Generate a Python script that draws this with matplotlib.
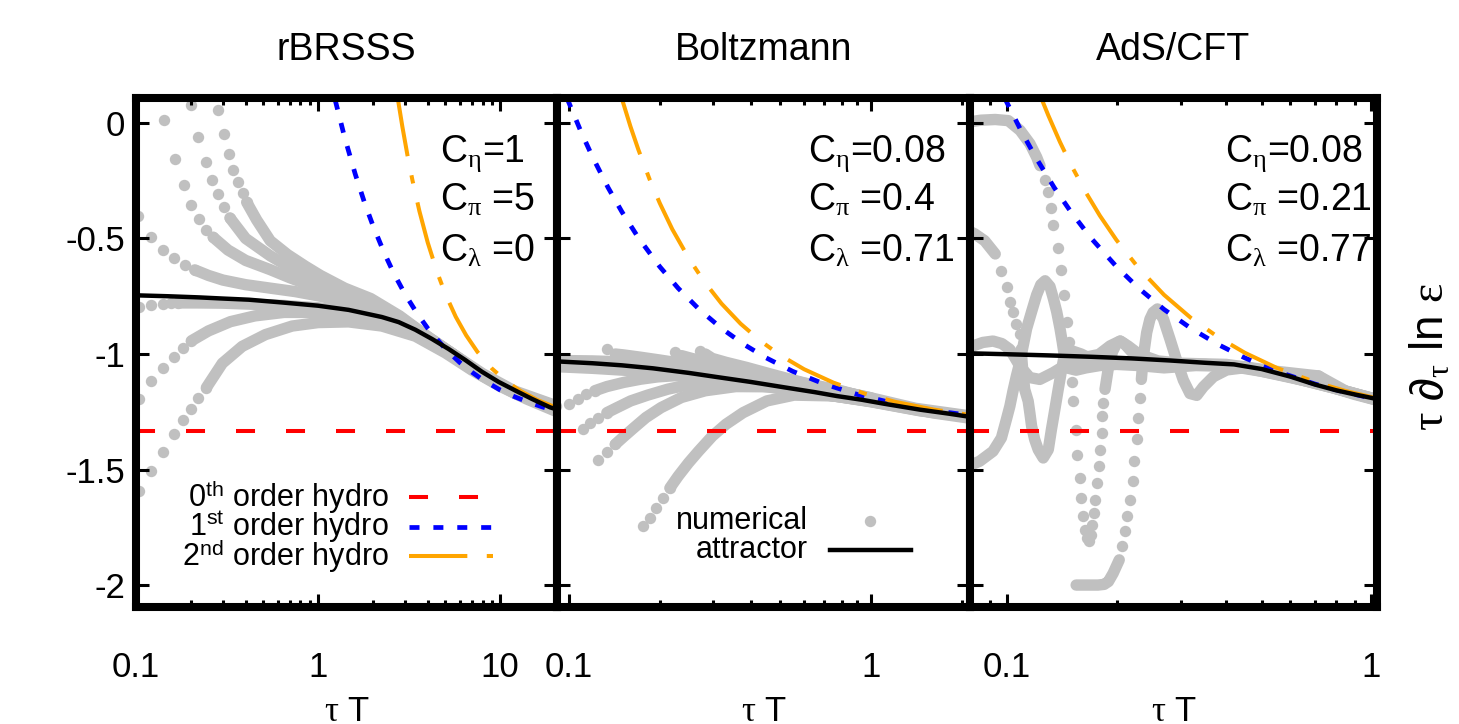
import numpy as np
import matplotlib.pyplot as plt
from matplotlib.ticker import FixedLocator, LogLocator, NullFormatter, FixedFormatter

plt.rcParams['font.family'] = ['Liberation Sans', 'DejaVu Sans']
plt.rcParams['mathtext.fontset'] = 'custom'
plt.rcParams['mathtext.rm'] = 'Liberation Sans'
plt.rcParams['mathtext.it'] = 'Liberation Serif'
plt.rcParams['lines.scale_dashes'] = False

# ---------------- data ----------------
titles = ['rBRSSS', 'Boltzmann', 'AdS/CFT']
coef_labels = [['C$_\\eta$=1', 'C$_\\pi$ =5', 'C$_\\lambda$ =0'],
               ['C$_\\eta$=0.08', 'C$_\\pi$ =0.4', 'C$_\\lambda$ =0.71'],
               ['C$_\\eta$=0.08', 'C$_\\pi$ =0.21', 'C$_\\lambda$ =0.77']]
zeroth_order = -1.333

# panel 1 : rBRSSS
p1_attr_x = [0.1, 0.15, 0.222, 0.3, 0.417, 0.635, 1.0, 1.47, 2.24, 2.77, 3.42, 4.22, 5.2, 6.43, 7.94, 9.81, 12.1, 14.9, 18.8, 20.5]
p1_attr_y = [-0.746, -0.75, -0.755, -0.76, -0.765, -0.777, -0.791, -0.809, -0.840, -0.862, -0.895, -0.935, -0.978, -1.026, -1.077, -1.121, -1.158, -1.194, -1.231, -1.24]
p1_first_x = [1.24, 1.4, 1.6, 1.8, 2.0, 2.3, 2.6, 3.0, 3.5, 4.0, 5.0, 6.0, 7.0, 8.0, 10, 12, 14, 17, 20.5]
p1_first_y = [0.100, -0.064, -0.222, -0.346, -0.444, -0.560, -0.650, -0.741, -0.825, -0.889, -0.978, -1.037, -1.079, -1.111, -1.156, -1.185, -1.206, -1.229, -1.247]
p1_second_x = [2.74, 2.9, 3.1, 3.3, 3.6, 4.0, 4.5, 5.0, 5.7, 6.5, 7.5, 9, 11, 13, 16, 20.5]
p1_second_y = [0.105, -0.015, -0.143, -0.250, -0.382, -0.518, -0.645, -0.741, -0.839, -0.919, -0.991, -1.063, -1.123, -1.161, -1.199, -1.233]
p1_dots = [
    ([0.2826, 0.3038, 0.3236, 0.3421, 0.3644, 0.3851, 0.4052], [0.055, -0.049, -0.133, -0.2025, -0.256, -0.304, -0.343]),
    ([0.2013, 0.2192, 0.2416, 0.2630, 0.2826, 0.3038, 0.3279], [0.077, -0.061, -0.169, -0.246, -0.3066, -0.364, -0.411]),
    ([0.1416, 0.1628, 0.1834, 0.2013, 0.2211, 0.2436, 0.2652], [0.0145, -0.155, -0.270, -0.353, -0.415, -0.463, -0.4946]),
    ([0.1021, 0.1210, 0.1404, 0.1608, 0.1849, 0.2101], [-0.4006, -0.492, -0.548, -0.5857, -0.6132, -0.636]),
    ([0.1043, 0.1210, 0.1404, 0.1561, 0.1699], [-0.798, -0.788, -0.784, -0.781, -0.779]),
    ([0.1043, 0.1210, 0.1404, 0.1608, 0.1811, 0.2013], [-1.196, -1.1164, -1.0586, -1.0123, -0.975, -0.943]),
    ([0.1043, 0.1210, 0.1404, 0.1608, 0.1811, 0.2013, 0.2192, 0.2436], [-1.594, -1.507, -1.424, -1.348, -1.287, -1.2364, -1.1887, -1.1453]),
]
p1_bands = [
    ([0.4052, 0.46, 0.546, 0.68, 0.85, 1.03, 1.4, 1.945, 2.8, 4.0, 5.5, 8.0, 12.0, 20.5],
     [-0.343, -0.42, -0.51, -0.57, -0.62, -0.66, -0.715, -0.76, -0.835, -0.925, -1.0, -1.085, -1.16, -1.225]),
    ([0.3279, 0.40, 0.546, 0.7, 0.85, 1.03, 1.4, 1.945, 2.8, 4.0, 5.5, 8.0, 12.0, 20.5],
     [-0.411, -0.50, -0.575, -0.625, -0.66, -0.69, -0.735, -0.772, -0.84, -0.925, -1.0, -1.09, -1.165, -1.23]),
    ([0.2652, 0.32, 0.4, 0.546, 0.7, 1.03, 1.4, 1.945, 2.8, 4.0, 5.5, 8.0, 12.0, 20.5],
     [-0.4946, -0.55, -0.595, -0.635, -0.67, -0.72, -0.76, -0.79, -0.85, -0.928, -1.0, -1.092, -1.168, -1.235]),
    ([0.2101, 0.25, 0.3, 0.4, 0.546, 0.75, 1.03, 1.4, 1.945, 2.8, 4.0, 5.5, 8.0, 12.0, 20.5],
     [-0.636, -0.66, -0.68, -0.70, -0.715, -0.73, -0.75, -0.775, -0.80, -0.855, -0.93, -1.0, -1.095, -1.17, -1.24]),
    ([0.1699, 0.22, 0.3, 0.45, 0.65, 1.0, 1.4, 1.945, 2.8, 4.0],
     [-0.779, -0.779, -0.78, -0.785, -0.79, -0.80, -0.815, -0.835, -0.865, -0.93]),
    ([0.2013, 0.25, 0.33, 0.45, 0.65, 1.0, 1.5, 2.2, 3.2, 4.5, 6.0, 9.0, 14.0, 20.5],
     [-0.943, -0.9, -0.86, -0.835, -0.82, -0.82, -0.83, -0.855, -0.9, -0.96, -1.03, -1.115, -1.19, -1.245]),
    ([0.2436, 0.298, 0.383, 0.514, 0.72, 1.0, 1.47, 2.24, 3.42, 5.0, 7.0, 10.0, 14.0, 20.5],
     [-1.1453, -1.04, -0.967, -0.916, -0.879, -0.864, -0.861, -0.879, -0.923, -0.995, -1.07, -1.14, -1.195, -1.25]),
]

# panel 2 : Boltzmann
p2_attr_x = [0.0915, 0.12, 0.15, 0.19, 0.25, 0.31, 0.4, 0.52, 0.65, 0.77, 0.93, 1.1, 1.45, 1.8, 2.12]
p2_attr_y = [-1.032, -1.040, -1.049, -1.062, -1.082, -1.100, -1.121, -1.145, -1.165, -1.182, -1.198, -1.215, -1.241, -1.258, -1.272]
p2_first_x = [0.0987, 0.11, 0.12, 0.135, 0.15, 0.17, 0.2, 0.23, 0.27, 0.32, 0.38, 0.45, 0.55, 0.7, 0.9, 1.2, 1.6, 2.12]
p2_first_y = [0.108, -0.040, -0.148, -0.280, -0.385, -0.497, -0.622, -0.715, -0.807, -0.889, -0.959, -1.017, -1.075, -1.130, -1.175, -1.215, -1.244, -1.266]
p2_second_x = [0.150, 0.16, 0.17, 0.185, 0.2, 0.22, 0.25, 0.28, 0.32, 0.37, 0.43, 0.5, 0.6, 0.75, 0.95, 1.2, 1.6, 2.12]
p2_second_y = [0.104, -0.015, -0.116, -0.243, -0.347, -0.460, -0.588, -0.685, -0.782, -0.869, -0.943, -1.005, -1.066, -1.124, -1.171, -1.207, -1.240, -1.264]
p2_dots = [
    ([0.0906, 0.1005, 0.1072, 0.1144, 0.122], [-1.225, -1.217, -1.196, -1.174, -1.159]),
    ([0.1115, 0.1174, 0.1253, 0.1337], [-1.326, -1.300, -1.275, -1.254]),
    ([0.1253, 0.1337, 0.1425], [-1.459, -1.425, -1.391]),
    ([0.1754, 0.185, 0.1946, 0.205, 0.216], [-1.746, -1.710, -1.667, -1.623, -1.580]),
    ([0.1337], [-0.978]),
    ([0.2244], [-0.993]),
    ([0.2724], [-0.9855]),
]
p2_bands = [
    ([0.122, 0.1337, 0.152, 0.173, 0.197, 0.2244, 0.29, 0.428, 0.72, 1.0, 1.45, 2.12],
     [-1.159, -1.141, -1.123, -1.109, -1.099, -1.094, -1.101, -1.138, -1.178, -1.205, -1.243, -1.27]),
    ([0.1337, 0.1445, 0.1603, 0.1824, 0.213, 0.255, 0.331, 0.452, 0.72, 1.0, 1.45, 2.12],
     [-1.254, -1.232, -1.203, -1.178, -1.152, -1.130, -1.116, -1.13, -1.178, -1.206, -1.245, -1.272]),
    ([0.1425, 0.152, 0.1644, 0.180, 0.202, 0.236, 0.283, 0.357, 0.488, 0.72, 1.0, 1.45, 2.12],
     [-1.391, -1.358, -1.319, -1.275, -1.232, -1.188, -1.159, -1.141, -1.142, -1.178, -1.207, -1.246, -1.273]),
    ([0.216, 0.230, 0.249, 0.269, 0.2985, 0.331, 0.377, 0.452, 0.556, 0.72, 0.933, 1.2, 1.6, 2.12],
     [-1.58, -1.529, -1.471, -1.420, -1.355, -1.304, -1.254, -1.203, -1.178, -1.181, -1.19, -1.22, -1.255, -1.278]),
    ([0.0915, 0.12, 0.16, 0.22, 0.3, 0.42, 0.6, 0.85, 1.2, 1.6, 2.12],
     [-1.055, -1.062, -1.072, -1.088, -1.105, -1.13, -1.16, -1.19, -1.222, -1.25, -1.272]),
    ([0.0915, 0.12, 0.16, 0.22, 0.3, 0.4, 0.55, 0.75, 1.0, 1.4, 2.12],
     [-1.028, -1.03, -1.035, -1.048, -1.065, -1.09, -1.12, -1.155, -1.19, -1.235, -1.268]),
    ([0.1426, 0.152, 0.173, 0.2, 0.24, 0.3, 0.4, 0.55, 0.75, 1.0],
     [-1.0, -1.004, -1.014, -1.026, -1.042, -1.06, -1.085, -1.12, -1.155, -1.19]),
    ([0.236, 0.255, 0.29, 0.35, 0.42, 0.55, 0.75, 1.0],
     [-1.007, -1.019, -1.036, -1.058, -1.08, -1.115, -1.155, -1.195]),
    ([0.283, 0.298, 0.331, 0.387, 0.46, 0.6, 0.8, 1.0],
     [-1.0, -1.019, -1.036, -1.058, -1.085, -1.125, -1.16, -1.195]),
]

# panel 3 : AdS/CFT
p3_attr_x = [0.0793, 0.1, 0.13, 0.17, 0.22, 0.28, 0.35, 0.42, 0.5, 0.6, 0.7, 0.8, 0.9, 1.036]
p3_attr_y = [-0.997, -1.001, -1.006, -1.012, -1.019, -1.028, -1.038, -1.045, -1.065, -1.098, -1.132, -1.157, -1.175, -1.195]
p3_first_x = [0.0987, 0.11, 0.12, 0.135, 0.15, 0.17, 0.2, 0.23, 0.27, 0.32, 0.38, 0.45, 0.55, 0.7, 0.85, 1.036]
p3_first_y = [0.108, -0.040, -0.148, -0.280, -0.385, -0.497, -0.622, -0.715, -0.807, -0.889, -0.959, -1.017, -1.075, -1.130, -1.166, -1.196]
p3_second_x = [0.1245, 0.13, 0.14, 0.15, 0.165, 0.18, 0.2, 0.23, 0.27, 0.32, 0.38, 0.45, 0.55, 0.7, 0.85, 1.036]
p3_second_y = [0.106, 0.033, -0.083, -0.181, -0.302, -0.401, -0.507, -0.628, -0.744, -0.844, -0.927, -0.995, -1.060, -1.121, -1.160, -1.192]
p3_dots = [
    ([0.1274, 0.1295, 0.1322, 0.1342, 0.1379, 0.1408, 0.1438, 0.146, 0.148, 0.150, 0.151, 0.152, 0.155, 0.156, 0.159, 0.160,
      0.162, 0.164, 0.166, 0.168, 0.170, 0.1715, 0.173, 0.1745, 0.1765, 0.179, 0.180, 0.182, 0.183, 0.184],
     [-0.247, -0.301, -0.366, -0.443, -0.541, -0.635, -0.744, -0.860, -0.95, -1.04, -1.12, -1.204, -1.327, -1.435, -1.536, -1.623,
      -1.703, -1.76, -1.795, -1.81, -1.785, -1.74, -1.689, -1.631, -1.558, -1.486, -1.414, -1.341, -1.269, -1.210]),
    ([0.207, 0.211, 0.214, 0.2175, 0.2215, 0.224, 0.227, 0.2295, 0.2325],
     [-1.833, -1.768, -1.703, -1.631, -1.551, -1.464, -1.370, -1.276, -1.189]),
    ([0.0967, 0.1, 0.102, 0.104, 0.1063, 0.1086], [-0.64, -0.708, -0.773, -0.820, -0.871, -0.914]),
]
p3_bands = [
    ([0.0793, 0.085, 0.093, 0.101, 0.1088, 0.1158, 0.1208, 0.1234], [0.005, 0.012, 0.015, 0.010, -0.032, -0.090, -0.148, -0.185]),
    ([0.186, 0.19, 0.195, 0.2, 0.205, 0.21, 0.22, 0.24, 0.28, 0.35, 0.45, 0.6, 0.8, 1.036],
     [-1.153, -1.06, -0.99, -0.955, -0.944, -0.955, -0.99, -1.03, -1.045, -1.045, -1.06, -1.1, -1.15, -1.197]),
    ([0.155, 0.162, 0.17, 0.178, 0.185, 0.19, 0.1958, 0.2035], [-2.0, -2.0, -2.0, -2.0, -1.997, -1.985, -1.949, -1.891]),
    ([0.234, 0.2367, 0.242, 0.247, 0.252, 0.259, 0.269, 0.2805, 0.292, 0.305, 0.318, 0.332, 0.346, 0.369, 0.401, 0.4456,
      0.5, 0.6, 0.716, 0.8, 0.9, 1.036],
     [-1.11, -1.016, -0.907, -0.849, -0.820, -0.805, -0.849, -0.937, -1.025, -1.113, -1.171, -1.179, -1.142, -1.098, -1.069, -1.06,
      -1.07, -1.10, -1.095, -1.15, -1.175, -1.2]),
    ([0.0793, 0.0817, 0.087, 0.093], [-0.47, -0.48, -0.51, -0.567]),
    ([0.1095, 0.1105, 0.112, 0.1145, 0.1157, 0.117, 0.1193, 0.122, 0.1259, 0.130, 0.1326, 0.1355, 0.1384, 0.1415, 0.1443,
      0.15, 0.16, 0.17, 0.18, 0.2, 0.25, 0.3, 0.4, 0.5, 0.7, 1.036],
     [-0.98, -1.06, -1.153, -1.204, -1.254, -1.312, -1.370, -1.414, -1.45, -1.414, -1.327, -1.240, -1.153, -1.066, -0.994,
      -0.985, -1.0, -1.02, -1.03, -1.04, -1.05, -1.045, -1.05, -1.075, -1.125, -1.197]),
    ([0.0793, 0.0843, 0.0917, 0.0967, 0.0998, 0.102, 0.104, 0.1063, 0.1086, 0.1134, 0.117, 0.1208, 0.124, 0.1274, 0.1314,
      0.1342, 0.1371, 0.14, 0.142, 0.1445, 0.146, 0.155, 0.165, 0.18, 0.2, 0.23, 0.27, 0.33, 0.45, 0.6, 0.8, 1.036],
     [-1.482, -1.464, -1.421, -1.363, -1.283, -1.226, -1.161, -1.095, -1.037, -0.890, -0.817, -0.744, -0.70, -0.683, -0.708,
      -0.759, -0.817, -0.890, -0.948, -1.026, -1.06, -1.07, -1.06, -1.05, -1.045, -1.05, -1.06, -1.05, -1.055, -1.1, -1.15, -1.197]),
    ([0.0793, 0.0808, 0.086, 0.0917, 0.097, 0.102, 0.1086, 0.1157, 0.1232, 0.134, 0.146, 0.162, 0.179, 0.192, 0.2044, 0.215,
      0.23, 0.26, 0.3, 0.4, 0.55, 0.716, 0.85, 1.036],
     [-0.97, -0.965, -0.95, -0.944, -0.955, -0.98, -1.052, -1.102, -1.11, -1.081, -1.045, -1.016, -1.002, -0.965, -0.944, -0.965,
      -1.0, -1.03, -1.04, -1.045, -1.075, -1.095, -1.16, -1.2]),
]

xlims = [(0.1, 20.5), (0.0915, 2.12), (0.0793, 1.036)]
xticks = [[0.1, 1, 10], [0.1, 1], [0.1, 1]]
xticklabels = [['0.1', '1', '10'], ['0.1', '1'], ['0.1', '1']]
yticks = [0, -0.5, -1, -1.5, -2]
yticklabels = ['0', '-0.5', '-1', '-1.5', '-2']

# ---------------- drawing ----------------
GRAY = '#c0c0c0'
FS = 25
DOT = 8.2
W, H = 1459, 724
fig = plt.figure(figsize=(W / 100, H / 100), dpi=100)

edges = [136, 557, 970, 1377]
top, bot = 98, 607
axes = []
for i in range(3):
    ax = fig.add_axes([edges[i] / W, 1 - bot / H, (edges[i + 1] - edges[i]) / W, (bot - top) / H])
    axes.append(ax)

panels = [
    (p1_bands, p1_dots, p1_attr_x, p1_attr_y, p1_first_x, p1_first_y, p1_second_x, p1_second_y),
    (p2_bands, p2_dots, p2_attr_x, p2_attr_y, p2_first_x, p2_first_y, p2_second_x, p2_second_y),
    (p3_bands, p3_dots, p3_attr_x, p3_attr_y, p3_first_x, p3_first_y, p3_second_x, p3_second_y),
]

coef_x = [0.722, 0.608, 0.627]
for i, ax in enumerate(axes):
    bands, dots, ax_x, ax_y, f_x, f_y, s_x, s_y = panels[i]
    for xs, ys in bands:
        ax.plot(xs, ys, color=GRAY, lw=DOT, solid_capstyle='round', solid_joinstyle='round', zorder=1)
    for xs, ys in dots:
        ax.plot(xs, ys, 'o', color=GRAY, ms=DOT, mec='none', zorder=1)
    ax.axhline(zeroth_order, color='#ff0000', lw=2.9, dashes=(13.7, 22.3), zorder=2)
    ax.plot(f_x, f_y, color='#0000ff', lw=3.4, dashes=(7.2, 10), zorder=2.1)
    ax.plot(s_x, s_y, color='#ffa500', lw=2.9, dashes=(42, 14, 6, 14), zorder=2.2)
    ax.plot(ax_x, ax_y, color='black', lw=3.2, zorder=2.3)

    ax.set_xscale('log')
    ax.set_xlim(*xlims[i])
    ax.set_ylim(-2.095, 0.108)
    ax.xaxis.set_major_locator(FixedLocator(xticks[i]))
    ax.xaxis.set_major_formatter(FixedFormatter(xticklabels[i]))
    ax.xaxis.set_minor_locator(LogLocator(base=10, subs=np.arange(2, 10), numticks=20))
    ax.xaxis.set_minor_formatter(NullFormatter())
    ax.yaxis.set_major_locator(FixedLocator(yticks))
    ax.yaxis.set_major_formatter(FixedFormatter(yticklabels))
    ax.tick_params(which='both', direction='in', top=True, right=True, width=2.2, labelsize=FS)
    ax.tick_params(which='major', length=9.4)
    ax.tick_params(which='minor', length=5)
    ax.tick_params(axis='x', pad=32)
    ax.tick_params(axis='y', pad=8)
    if i > 0:
        ax.tick_params(labelleft=False)
    for sp in ax.spines.values():
        sp.set_linewidth(5.8)
        sp.set_zorder(5)

    ax.text(0.5, 1.0747, titles[i], transform=ax.transAxes, ha='center', va='baseline', fontsize=FS + 2)
    ax.text(0.5, -0.224, '$\\tau$ T', transform=ax.transAxes, ha='center', va='baseline', fontsize=FS)
    for k, lab in enumerate(coef_labels[i]):
        ax.text(coef_x[i], [0.875, 0.778, 0.678][k], lab, transform=ax.transAxes,
                ha='left', va='baseline', fontsize=FS + 2, zorder=6)

# legend, panel 1
ax = axes[0]
leg_rows = [0.2161, 0.1572, 0.1002]
leg_text = ['0$^{\\mathrm{th}}$ order hydro', '1$^{\\mathrm{st}}$ order hydro', '2$^{\\mathrm{nd}}$ order hydro']
leg_style = [dict(color='#ff0000', lw=2.9, dashes=(13.7, 22.3)),
             dict(color='#0000ff', lw=3.4, dashes=(7.2, 10)),
             dict(color='#ffa500', lw=2.9, dashes=(42, 14, 6, 14))]
for r, t, st in zip(leg_rows, leg_text, leg_style):
    ax.plot([0.648, 0.848], [r, r], transform=ax.transAxes, zorder=6, **st)
    ax.text(0.601, r, t, transform=ax.transAxes, ha='right', va='center', fontsize=FS - 3, zorder=6)

# legend, panel 2
ax = axes[1]
ax.plot([0.758], [0.169], 'o', color=GRAY, ms=DOT, mec='none', transform=ax.transAxes, zorder=6)
ax.text(0.608, 0.169, 'numerical', transform=ax.transAxes, ha='right', va='center', fontsize=FS - 3, zorder=6)
ax.plot([0.661, 0.857], [0.112, 0.112], color='black', lw=3.2, transform=ax.transAxes, zorder=6)
ax.text(0.608, 0.112, 'attractor', transform=ax.transAxes, ha='right', va='center', fontsize=FS - 3, zorder=6)

fig.text(1432 / W, 1 - 357 / H, '$\\tau\\ \\partial_\\tau$ ln $\\varepsilon$', rotation=90,
         ha='center', va='center', fontsize=33)

fig.savefig('out.png', dpi=100)
